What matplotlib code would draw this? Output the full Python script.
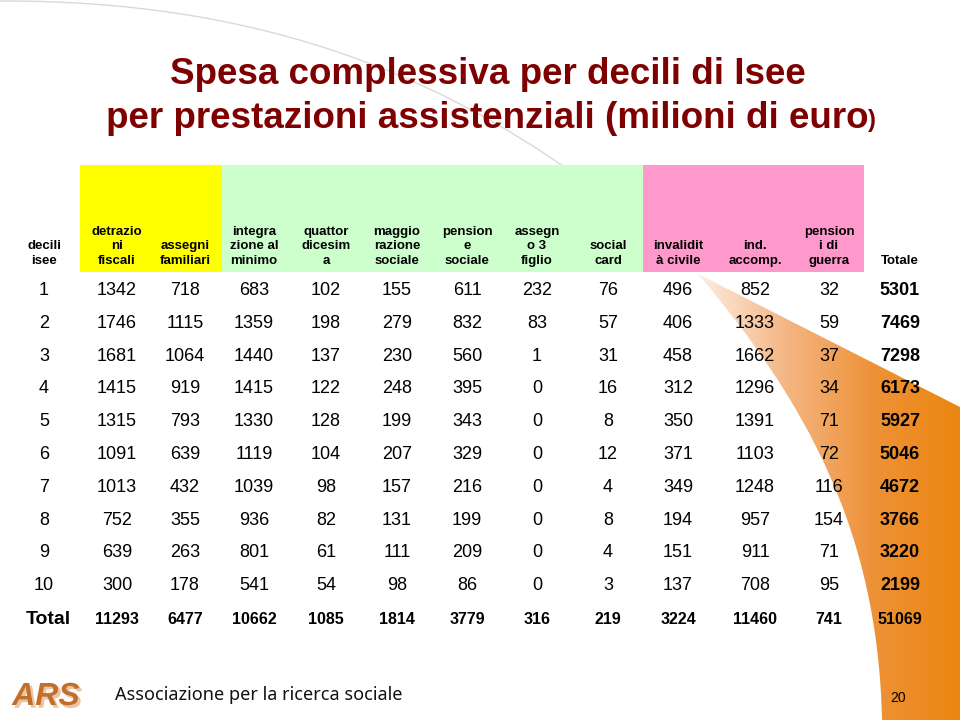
import numpy as np
import matplotlib.pyplot as plt
import matplotlib.patheffects as pe
from matplotlib.path import Path
from matplotlib.patches import PathPatch, Rectangle
from matplotlib.colors import LinearSegmentedColormap

# ---- data (milioni di euro) ----
deciles = ['1', '2', '3', '4', '5', '6', '7', '8', '9', '10']
headers = ['decili\nisee', 'detrazio\nni\nfiscali', 'assegni\nfamiliari',
           'integra\nzione al\nminimo', 'quattor\ndicesim\na', 'maggio\nrazione\nsociale',
           'pension\ne\nsociale', 'assegn\no 3\nfiglio', 'social\ncard',
           'invalidit\nà civile', 'ind.\naccomp.', 'pension\ni di\nguerra', 'Totale']

detrazioni_fiscali = [1342, 1746, 1681, 1415, 1315, 1091, 1013, 752, 639, 300]
assegni_familiari = [718, 1115, 1064, 919, 793, 639, 432, 355, 263, 178]
integrazione_minimo = [683, 1359, 1440, 1415, 1330, 1119, 1039, 936, 801, 541]
quattordicesima = [102, 198, 137, 122, 128, 104, 98, 82, 61, 54]
maggiorazione_sociale = [155, 279, 230, 248, 199, 207, 157, 131, 111, 98]
pensione_sociale = [611, 832, 560, 395, 343, 329, 216, 199, 209, 86]
assegno_3_figlio = [232, 83, 1, 0, 0, 0, 0, 0, 0, 0]
social_card = [76, 57, 31, 16, 8, 12, 4, 8, 4, 3]
invalidita_civile = [496, 406, 458, 312, 350, 371, 349, 194, 151, 137]
ind_accomp = [852, 1333, 1662, 1296, 1391, 1103, 1248, 957, 911, 708]
pensioni_guerra = [32, 59, 37, 34, 71, 72, 116, 154, 71, 95]
totale = [5301, 7469, 7298, 6173, 5927, 5046, 4672, 3766, 3220, 2199]

totals_row = [11293, 6477, 10662, 1085, 1814, 3779, 316, 219, 3224, 11460, 741, 51069]

columns = [detrazioni_fiscali, assegni_familiari, integrazione_minimo, quattordicesima,
           maggiorazione_sociale, pensione_sociale, assegno_3_figlio, social_card,
           invalidita_civile, ind_accomp, pensioni_guerra, totale]

# ---- layout (pixels, slide coordinates) ----
COL_X = [44, 117, 185, 254, 326, 397, 467, 537, 608, 678, 755, 829, 900]
ROW_Y0 = 290.5
ROW_DY = 32.8
TOTAL_Y = 619
FONT = 'Liberation Sans'
TITLE_RED = '#7f0000'

fig = plt.figure(figsize=(9.6, 7.2), dpi=100)
ax = fig.add_axes([0, 0, 1, 1])
ax.set_xlim(0, 960)
ax.set_ylim(720, 0)
ax.axis('off')

# background decoration: thin grey arc + orange swoosh
arc = Path([(0, 1), (250, 0), (430, 70), (580, 178)],
           [Path.MOVETO, Path.CURVE4, Path.CURVE4, Path.CURVE4])
ax.add_patch(PathPatch(arc, fc='none', ec='#d9d9d9', lw=1.0, zorder=0))

swoosh = Path([(698, 274), (805, 400), (878, 530), (882, 720),
               (960, 720), (960, 407), (698, 274)],
              [Path.MOVETO, Path.CURVE4, Path.CURVE4, Path.CURVE4,
               Path.LINETO, Path.LINETO, Path.CLOSEPOLY])
sw_patch = PathPatch(swoosh, fc='none', ec='none')
ax.add_patch(sw_patch)
cmap = LinearSegmentedColormap.from_list('sw', ['#fdeee2', '#f4b684', '#ee9238', '#ec8610'])
grad = np.linspace(0, 1, 256).reshape(1, -1)
im = ax.imshow(grad, cmap=cmap, extent=(698, 960, 720, 272), aspect='auto', zorder=0.5)
im.set_clip_path(sw_patch)
ax.set_xlim(0, 960)
ax.set_ylim(720, 0)

# title
ax.text(488, 74, 'Spesa complessiva per decili di Isee', ha='center', va='center',
        fontsize=26.5, fontweight='bold', color=TITLE_RED, family=FONT)
t2 = ax.text(487, 119, 'per prestazioni assistenziali (milioni di euro', ha='center', va='center',
             fontsize=26.5, fontweight='bold', color=TITLE_RED, family=FONT)
ax.annotate(')', xy=(1, 0.14), xycoords=t2, ha='left', va='bottom',
            fontsize=17, fontweight='bold', color=TITLE_RED, family=FONT)

# header colour bands
ax.add_patch(Rectangle((80, 165), 142, 107, fc='#ffff00', ec='none', zorder=1))
ax.add_patch(Rectangle((222, 165), 421, 107, fc='#ccffcc', ec='none', zorder=1))
ax.add_patch(Rectangle((643, 165), 221, 107, fc='#ff99cc', ec='none', zorder=1))

for x, h in zip(COL_X, headers):
    ax.text(x, 267, h, ha='center', va='bottom', multialignment='center',
            fontsize=9.5, fontweight='bold', family=FONT, linespacing=1.28, zorder=2)

# body rows
for i, d in enumerate(deciles):
    y = ROW_Y0 + i * ROW_DY
    ax.text(COL_X[0], y, d, ha='center', va='center', fontsize=13, family=FONT, zorder=2)
    for j, col in enumerate(columns):
        last = j == len(columns) - 1
        ax.text(COL_X[j + 1], y, str(col[i]), ha='center', va='center', fontsize=13,
                fontweight='bold' if last else 'normal', family=FONT, zorder=2)

ax.text(COL_X[0] + 4, TOTAL_Y, 'Total', ha='center', va='center', fontsize=14,
        fontweight='bold', family=FONT, zorder=2)
for j, v in enumerate(totals_row):
    ax.text(COL_X[j + 1], TOTAL_Y + 1, str(v), ha='center', va='center', fontsize=11.5,
            fontweight='bold', family=FONT, zorder=2)

# footer
ax.text(46, 697, 'ARS', ha='center', va='center', fontsize=23, fontweight='bold',
        style='italic', color='#c46e2a', family=FONT, zorder=3,
        path_effects=[pe.SimplePatchShadow(offset=(2, -2), shadow_rgbFace='#e6c7a6', alpha=1.0),
                      pe.Normal()])
ax.text(115, 695, 'Associazione per la ricerca sociale', ha='left', va='center',
        fontsize=13, family='Noto Sans', color='#111111')
ax.text(898, 698, '20', ha='center', va='center', fontsize=10, family=FONT, zorder=3)

fig.savefig('out.png', dpi=100)
